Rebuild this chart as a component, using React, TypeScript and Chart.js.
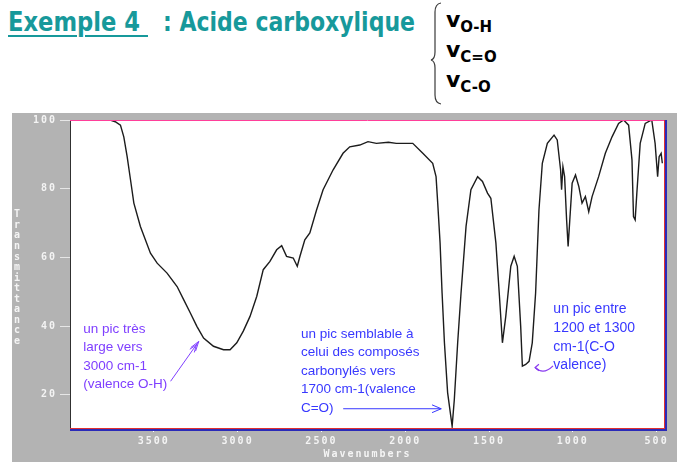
import React, { useEffect, useLayoutEffect, useRef } from 'react';
import { Chart, registerables } from 'chart.js';

Chart.register(...registerables);

// ---------- data ----------
const wavenumbers = [
  4000, 3760, 3730, 3699, 3679, 3659, 3639, 3619, 3580, 3520, 3480, 3421, 3361, 3322, 3282, 3243, 3203,
  3144, 3084, 3045, 3005, 2966, 2926, 2886, 2847, 2807, 2767, 2737, 2708, 2668, 2644, 2628, 2599, 2569,
  2529, 2490, 2430, 2371, 2331, 2271, 2222, 2172, 2100, 2053, 1955, 1895, 1836, 1816, 1806, 1792, 1780,
  1766, 1747, 1720, 1707, 1687, 1667, 1637, 1608, 1568, 1539, 1509, 1489, 1459, 1439, 1420, 1400, 1370,
  1350, 1331, 1311, 1301, 1281, 1261, 1242, 1222, 1202, 1182, 1152, 1112, 1093, 1073, 1067, 1059, 1049,
  1037, 1028, 1018, 1004, 984, 964, 945, 925, 905, 885, 846, 806, 766, 727, 697, 667, 647, 638, 628, 618,
  598, 568, 529, 509, 494, 485, 473, 466,
];
const transmittance = [
  100, 100, 99.5, 98.5, 95.1, 89.3, 82.6, 75.8, 69, 61.2, 58.3, 55.4, 51.5, 47.7, 43.8, 39.9, 36.5,
  34.1, 33.1, 33.1, 35.1, 38.5, 42.8, 48.6, 56.4, 58.8, 62.2, 63.4, 60.3, 59.8, 57.4, 60.3, 65.1, 67.1,
  73.8, 79.7, 85.5, 90.3, 92.2, 92.7, 93.7, 93.2, 93.5, 93.2, 93.2, 90.3, 87.4, 83.5, 75.8, 64.2, 49.6,
  35.1, 20.6, 10.8, 18.6, 35.1, 49.6, 69, 79.7, 83.5, 82.1, 78.7, 77.2, 64.2, 49.6, 35.1, 42.8, 57.4,
  60.3, 57.4, 39.9, 28.3, 28.8, 29.7, 35.1, 49.6, 73.8, 87.4, 93.2, 95.6, 94.2, 85.5, 79.7, 86.4, 83.5,
  70.9, 63.2, 70.9, 81.6, 84, 80.6, 75.8, 77.7, 73.3, 77.7, 83.5, 90.3, 95.1, 99, 100, 98.5, 88.4, 71.9, 70.9, 78.7,
  93.2, 99, 100, 93.2, 83.5, 89.3, 90.3, 87.4,
];
const xTickValues = [3500, 3000, 2500, 2000, 1500, 1000, 500];
const yTickValues = [20, 40, 60, 80, 100];
const xAxisTitle = 'Wavenumbers';
const yAxisTitle = 'Transmittance';
const titleMain = 'Exemple 4 ';
const titleRest = ': Acide carboxylique';
const bondLabels = ['O-H', 'C=O', 'C-O'];
const noteOH = ['un pic très', 'large vers', '3000 cm-1', '(valence O-H)'];
const noteCO = ['un pic semblable à', 'celui des composés', 'carbonylés vers', '1700 cm-1(valence', 'C=O)'];
const noteCOsingle = ['un pic entre', '1200 et 1300', 'cm-1(C-O', 'valence)'];

// ---------- annotation placement (data space) ----------
const notes = [
  { lines: noteOH, wn: 3921, t: 38.0, color: '#7f3fff', size: 13.5, lh: 18.5 },
  { lines: noteCO, wn: 2622, t: 36.6, color: '#3838ff', size: 13.5, lh: 18.5 },
  { lines: noteCOsingle, wn: 1116, t: 43.8, color: '#3838ff', size: 14, lh: 18.8 },
];

const TEAL = '#17999b';
const GREY = '#b3b3b3';
const MONO = '"DejaVu Sans Mono", monospace';

function arrowHead(ctx: CanvasRenderingContext2D, x: number, y: number, ang: number, len: number, spread: number) {
  ctx.beginPath();
  ctx.moveTo(x - len * Math.cos(ang - spread), y - len * Math.sin(ang - spread));
  ctx.lineTo(x, y);
  ctx.lineTo(x - len * Math.cos(ang + spread), y - len * Math.sin(ang + spread));
  ctx.stroke();
}

const framePlugin = {
  id: 'frame',
  beforeDraw(chart: any) {
    const { ctx, chartArea: a, width, height } = chart;
    ctx.save();
    ctx.fillStyle = GREY;
    ctx.fillRect(0, 0, width, height);
    ctx.fillStyle = '#ffffff';
    ctx.fillRect(a.left, a.top, a.right - a.left, a.bottom - a.top);
    ctx.restore();
    ctx.letterSpacing = '2px';
  },
  beforeDatasetsDraw(chart: any) {
    chart.ctx.letterSpacing = '0px';
  },
  afterDraw(chart: any) {
    const { ctx, chartArea: a } = chart;
    const xs = chart.scales.x;
    const ys = chart.scales.y;
    ctx.save();
    ctx.letterSpacing = '0px';
    // frame lines
    ctx.lineWidth = 1;
    ctx.strokeStyle = '#ff3f9a';
    ctx.beginPath(); ctx.moveTo(a.left, a.top + 0.5); ctx.lineTo(a.right, a.top + 0.5); ctx.stroke();
    ctx.strokeStyle = '#e03030';
    ctx.beginPath(); ctx.moveTo(a.left, a.bottom - 0.5); ctx.lineTo(a.right + 1, a.bottom - 0.5); ctx.stroke();
    ctx.beginPath(); ctx.moveTo(a.right - 0.5, a.top); ctx.lineTo(a.right - 0.5, a.bottom); ctx.stroke();
    ctx.strokeStyle = '#2a2ab8';
    ctx.lineWidth = 2;
    ctx.beginPath(); ctx.moveTo(a.left, a.bottom + 1); ctx.lineTo(a.right + 2, a.bottom + 1); ctx.stroke();
    ctx.beginPath(); ctx.moveTo(a.right + 1, a.top); ctx.lineTo(a.right + 1, a.bottom + 2); ctx.stroke();

    // stacked y-axis title
    ctx.fillStyle = '#f4f4f4';
    ctx.font = `bold 10px ${MONO}`;
    ctx.textAlign = 'center';
    ctx.textBaseline = 'middle';
    const chars = yAxisTitle.split('');
    const y0 = ys.getPixelForValue(72.4);
    chars.forEach((c, i) => ctx.fillText(c, 5, y0 + i * 10.55));

    // annotation texts
    ctx.textAlign = 'left';
    ctx.textBaseline = 'alphabetic';
    notes.forEach((n) => {
      ctx.fillStyle = n.color;
      ctx.font = `${n.size}px "Liberation Sans", Arial, sans-serif`;
      const x = xs.getPixelForValue(n.wn);
      const y = ys.getPixelForValue(n.t);
      n.lines.forEach((l, i) => ctx.fillText(l, x, y + i * n.lh));
    });

    // arrow 1 (O-H)
    ctx.lineWidth = 1;
    ctx.strokeStyle = '#7f3fff';
    let p0x = xs.getPixelForValue(3400), p0y = ys.getPixelForValue(23.9);
    let p1x = xs.getPixelForValue(3232), p1y = ys.getPixelForValue(35.5);
    ctx.beginPath(); ctx.moveTo(p0x, p0y); ctx.lineTo(p1x, p1y); ctx.stroke();
    let ang = Math.atan2(p1y - p0y, p1x - p0x);
    arrowHead(ctx, p1x, p1y, ang, 10, 0.3);
    arrowHead(ctx, p1x - 4 * Math.cos(ang), p1y - 4 * Math.sin(ang), ang, 8, 0.35);

    // arrow 2 (C=O)
    ctx.strokeStyle = '#3838ff';
    p0x = xs.getPixelForValue(2370); p1x = xs.getPixelForValue(1785);
    p0y = ys.getPixelForValue(15.9);
    ctx.beginPath(); ctx.moveTo(p0x, p0y); ctx.lineTo(p1x, p0y); ctx.stroke();
    arrowHead(ctx, p1x, p0y, 0, 10, 0.4);

    // arrow 3 (C-O), small curl
    ctx.strokeStyle = '#8a3cf0';
    ctx.lineWidth = 1.2;
    p0x = xs.getPixelForValue(1118); p0y = ys.getPixelForValue(28.4);
    const cx = xs.getPixelForValue(1175), cy = ys.getPixelForValue(25.6);
    p1x = xs.getPixelForValue(1225); p1y = ys.getPixelForValue(27.9);
    ctx.beginPath(); ctx.moveTo(p0x, p0y); ctx.quadraticCurveTo(cx, cy, p1x, p1y); ctx.stroke();
    arrowHead(ctx, p1x, p1y, Math.PI, 5, 0.7);
    ctx.restore();
  },
};

function FitText(props: { text: string; width: number; style: React.CSSProperties }) {
  const ref = useRef<HTMLSpanElement>(null);
  useLayoutEffect(() => {
    const el = ref.current;
    if (!el) return;
    el.style.transform = 'none';
    const w = el.getBoundingClientRect().width;
    if (w > 0) el.style.transform = `scaleX(${props.width / w})`;
  }, [props.text, props.width]);
  return (
    <span
      ref={ref}
      style={{ position: 'absolute', whiteSpace: 'pre', display: 'inline-block', transformOrigin: '0 0', ...props.style }}
    >
      {props.text}
    </span>
  );
}

export default function App() {
  const canvasRef = useRef<HTMLCanvasElement>(null);

  useEffect(() => {
    const canvas = canvasRef.current;
    if (!canvas) return;
    const points = wavenumbers.map((w, i) => ({ x: w, y: transmittance[i] }));
    const chart = new Chart(canvas, {
      type: 'line',
      data: {
        datasets: [
          {
            data: points,
            borderColor: '#1c1c1c',
            borderWidth: 1.4,
            pointRadius: 0,
            tension: 0,
            fill: false,
          },
        ],
      },
      options: {
        animation: false,
        responsive: false,
        devicePixelRatio: 1,
        parsing: false,
        layout: { padding: { left: 0, top: 7, right: 12, bottom: 0 } },
        plugins: { legend: { display: false }, tooltip: { enabled: false }, title: { display: false } },
        scales: {
          x: {
            type: 'linear',
            reverse: true,
            min: 450,
            max: 4000,
            afterBuildTicks: (s: any) => {
              s.ticks = xTickValues.map((v) => ({ value: v }));
            },
            afterFit: (s: any) => {
              s.height = 33;
              s.paddingLeft = 0;
              s.paddingRight = 0;
            },
            border: { display: false },
            grid: { drawOnChartArea: false, drawTicks: true, tickLength: 3, color: '#ffffff' },
            ticks: {
              autoSkip: false,
              maxRotation: 0,
              padding: 3,
              color: '#f4f4f4',
              font: { family: MONO, size: 10, weight: 'bold' },
              callback: (v: any) => String(v),
            },
            title: {
              display: true,
              text: xAxisTitle,
              color: '#f4f4f4',
              font: { family: MONO, size: 10, weight: 'bold' },
              padding: { top: 0, bottom: 2 },
            },
          },
          y: {
            type: 'linear',
            min: 10,
            max: 100,
            afterBuildTicks: (s: any) => {
              s.ticks = yTickValues.map((v) => ({ value: v }));
            },
            afterFit: (s: any) => {
              s.width = 58;
              s.paddingTop = 0;
              s.paddingBottom = 0;
            },
            border: { display: true, color: '#303030', width: 1 },
            grid: { drawOnChartArea: false, drawTicks: true, tickLength: 10, color: '#e6e6e6' },
            ticks: {
              autoSkip: false,
              padding: 3,
              color: '#f4f4f4',
              font: { family: MONO, size: 10, weight: 'bold' },
              callback: (v: any) => String(v),
            },
          },
        },
      },
      plugins: [framePlugin],
    });
    return () => chart.destroy();
  }, []);

  const titleFont: React.CSSProperties = {
    fontFamily: '"DejaVu Sans", sans-serif',
    fontWeight: 'bold',
    fontSize: 26,
    lineHeight: '26px',
    color: TEAL,
  };

  return (
    <div style={{ position: 'absolute', left: 0, top: 0, width: 685, height: 475, background: '#ffffff', overflow: 'hidden' }}>
      <FitText text={titleMain} width={140} style={{ ...titleFont, left: 8, top: 9, textDecoration: 'underline', textDecorationThickness: '2px', textUnderlineOffset: '4px' }} />
      <FitText text={titleRest} width={252} style={{ ...titleFont, left: 163, top: 9 }} />
      <svg width={20} height={110} style={{ position: 'absolute', left: 426, top: 0 }}>
        <path
          d="M15 3 Q9 4 9 12 L9 52 Q9 59 5 60 Q9 61 9 68 L9 95 Q9 103 15 104"
          fill="none"
          stroke="#3a3a3a"
          strokeWidth={1.2}
        />
      </svg>
      {bondLabels.map((b, i) => (
        <div
          key={b}
          style={{
            position: 'absolute',
            left: 446,
            top: 9 + i * 30,
            fontFamily: '"DejaVu Sans", sans-serif',
            fontWeight: 'bold',
            lineHeight: '22px',
            color: '#000',
            whiteSpace: 'pre',
          }}
        >
          <span style={{ fontSize: 22 }}>v</span>
          <span style={{ fontSize: 15, position: 'relative', top: 5 }}>{b}</span>
        </div>
      ))}
      <canvas
        ref={canvasRef}
        width={665}
        height={349}
        style={{ position: 'absolute', left: 12, top: 113, width: 665, height: 349 }}
      />
    </div>
  );
}
